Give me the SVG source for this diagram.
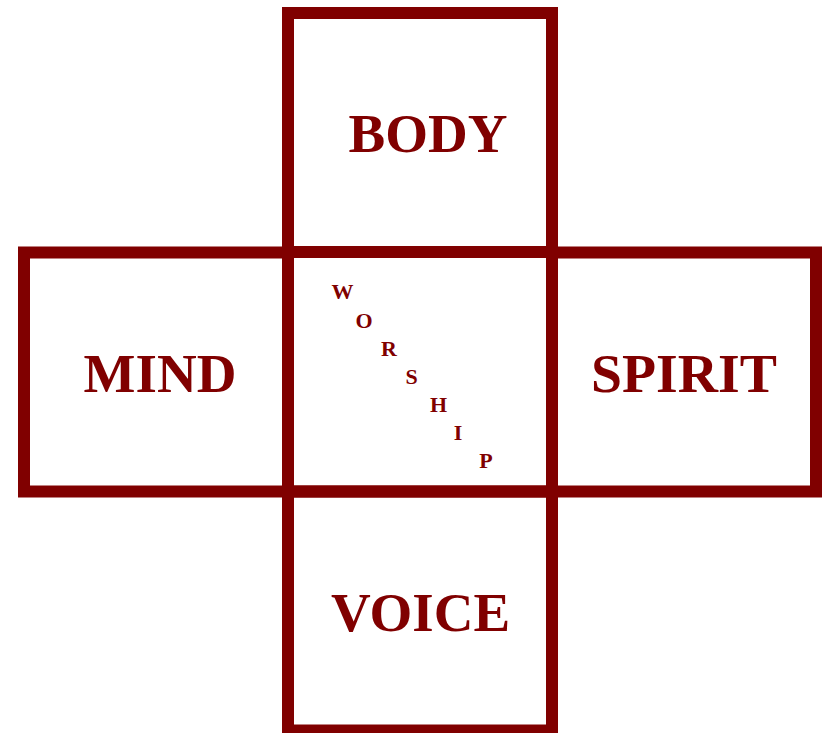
<svg xmlns="http://www.w3.org/2000/svg" width="827" height="733" viewBox="0 0 827 733">
<style>
.box{fill:none;stroke:#800000;stroke-width:12}
.lbl{font-family:"Liberation Serif","Times New Roman",serif;font-weight:bold;fill:#800000;font-size:55px;text-anchor:middle}
.w{font-family:"Liberation Serif","Times New Roman",serif;font-weight:bold;fill:#800000;font-size:22px;text-anchor:middle}
</style>
<rect width="827" height="733" fill="#ffffff"/>
<g id="body"><rect class="box" x="288" y="13" width="264" height="239"/><text class="lbl" x="428" y="152">BODY</text></g>
<g id="mind"><rect class="box" x="24" y="252.5" width="264" height="239"/><text class="lbl" x="160" y="392">MIND</text></g>
<g id="spirit"><rect class="box" x="552" y="252.5" width="264" height="239"/><text class="lbl" x="684" y="392" textLength="186" lengthAdjust="spacingAndGlyphs">SPIRIT</text></g>
<g id="voice"><rect class="box" x="288" y="491.5" width="264" height="239"/><text class="lbl" x="420.5" y="631">VOICE</text></g>
<g id="worship"><rect class="box" x="288" y="252" width="264" height="239.5"/>
<text class="w" x="342.5" y="299">W</text>
<text class="w" x="364" y="328">O</text>
<text class="w" x="389" y="356">R</text>
<text class="w" x="411.5" y="384">S</text>
<text class="w" x="438.5" y="412">H</text>
<text class="w" x="458" y="440">I</text>
<text class="w" x="486" y="468">P</text>
</g>
<g id="connectors"></g>
</svg>
